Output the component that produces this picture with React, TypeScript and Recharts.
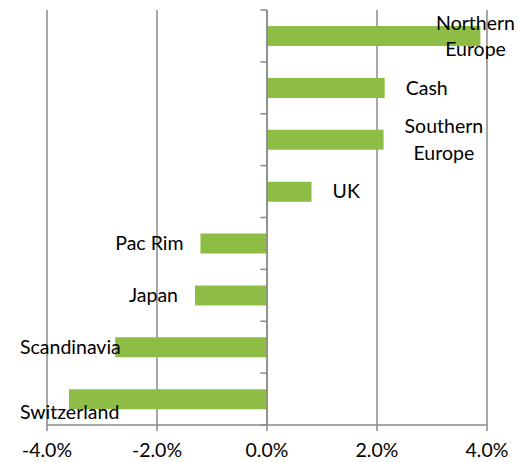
import { BarChart, Bar, XAxis, YAxis, CartesianGrid, ReferenceLine, LabelList } from 'recharts';

const REGIONS = ['Northern Europe', 'Cash', 'Southern Europe', 'UK', 'Pac Rim', 'Japan', 'Scandinavia', 'Switzerland'];
const ACTIVE = [3.88, 2.14, 2.12, 0.81, -1.21, -1.31, -2.76, -3.6];
const X_TICKS = [-4, -2, 0, 2, 4];

const W = 518, H = 462;
const GREEN = '#8EBD45';
const GRID = '#8a8a8a';
const FONT = 'Lato, sans-serif';
const FS = 19.5;

const rows = REGIONS.map((name, i) => ({ name, v: ACTIVE[i] }));

let ctx: CanvasRenderingContext2D | null = null;
function textW(s: string) {
    if (!ctx) ctx = document.createElement('canvas').getContext('2d');
    if (!ctx) return s.length * FS * 0.5;
    ctx.font = `${FS}px Lato`;
    return ctx.measureText(s).width;
}

// excel-ish placement: right of positive bars, left of negative ones, wrapped/clamped at the edges
function RegionLabel(props: any) {
    const { x, y, width, height, index } = props;
    const left = Math.min(x, x + width), right = Math.max(x, x + width);
    const cy = y + height / 2;
    const name = REGIONS[index];
    const st = { fontSize: FS, fontFamily: FONT, fill: '#000' };
    if (ACTIVE[index] >= 0) {
        const start = right + 21;
        if (start + textW(name) <= W - 2) return <text x={start} y={cy} dy="0.35em" {...st}>{name}</text>;
        const words = name.split(' ');
        const bw = Math.max(...words.map(textW));
        const cx = Math.min(start, W - 3 - bw) + bw / 2;
        return (
            <text textAnchor="middle" {...st}>
                {words.map((w, k) => (
                    <tspan key={k} x={cx} y={cy + (k - (words.length - 1) / 2) * 26.5} dy="0.35em">{w}</tspan>
                ))}
            </text>
        );
    }
    const wd = textW(name);
    let sx = left - 17 - wd, dy = 0;
    if (sx < 20) { sx = 20; if (sx + wd - left > 30) dy = 13; }
    return <text x={sx} y={cy + dy} dy="0.35em" {...st}>{name}</text>;
}

export default function App() {
    const last = REGIONS[REGIONS.length - 1];
    return (
        <div style={{ position: 'absolute', left: 0, top: 0, width: W, height: H, background: '#fff' }}>
            <BarChart width={W} height={H} data={rows} layout="vertical" margin={{ top: 10, right: 31, bottom: 7, left: 47 }}>
                <CartesianGrid horizontal={false} stroke={GRID} strokeWidth={1.5} />
                <XAxis type="number" dataKey="v" domain={[-4, 4]} ticks={X_TICKS} interval={0} height={30}
                    tickFormatter={(v: number) => `${v.toFixed(1)}%`}
                    axisLine={{ stroke: GRID, strokeWidth: 1.5 }} tickLine={{ stroke: GRID, strokeWidth: 1.5 }}
                    tickSize={6} tickMargin={12} tick={{ fill: '#000', fontSize: FS, fontFamily: FONT }} />
                <YAxis type="category" dataKey="name" hide width={0} />
                <Bar dataKey="v" fill={GREEN} barSize={20} isAnimationActive={false}>
                    <LabelList dataKey="name" content={RegionLabel} />
                </Bar>
                <ReferenceLine x={0} stroke={GRID} strokeWidth={1.5} />
                {/* little tick marks on the zero axis at each category boundary */}
                {REGIONS.map(r => (
                    <ReferenceLine key={r} position="start" segment={[{ x: -0.12, y: r }, { x: 0, y: r }]}
                        ifOverflow="visible" stroke={GRID} strokeWidth={1.5} />
                ))}
                <ReferenceLine position="end" segment={[{ x: -0.12, y: last }, { x: 0, y: last }]}
                    ifOverflow="visible" stroke={GRID} strokeWidth={1.5} />
            </BarChart>
        </div>
    );
}
